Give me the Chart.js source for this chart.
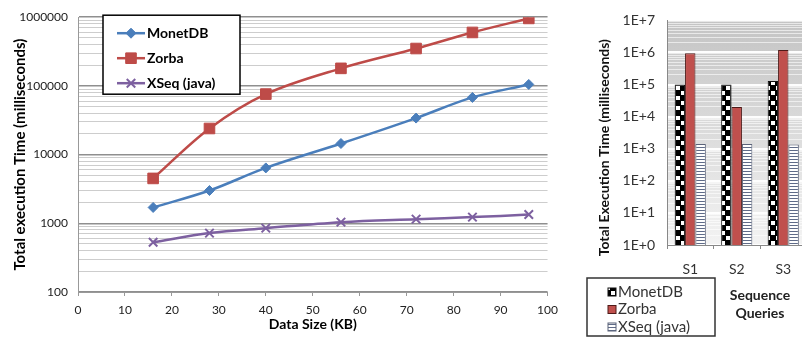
<!DOCTYPE html>
<html>
<head>
<meta charset="utf-8">
<script src="https://cdn.jsdelivr.net/npm/chart.js@4.4.1/dist/chart.umd.min.js"></script>
<style>
  html, body { margin:0; padding:0; background:#fff; overflow:hidden; width:802px; height:338px; }
  canvas { position:absolute; top:0; }
</style>
</head>
<body>
<canvas id="lineChart" width="565" height="338" style="left:0"></canvas>
<canvas id="barChart" width="240" height="338" style="left:570px"></canvas>
<script>
// ---------- Data: scaling experiment (left) ----------
const sizesKB    = [16, 28, 40, 56, 72, 84, 96];
const monetTimes = [1700, 3000, 6400, 14500, 34000, 68000, 105000];
const zorbaTimes = [4500, 24000, 76000, 180000, 350000, 600000, 960000];
const xseqTimes  = [530, 720, 850, 1040, 1150, 1230, 1340];
const lineXTicks = [0, 10, 20, 30, 40, 50, 60, 70, 80, 90, 100];
const lineYTicks = [100, 1000, 10000, 100000, 1000000];

// ---------- Data: sequence queries (right) ----------
const queries    = ['S1', 'S2', 'S3'];
const monetQuery = [100000, 100000, 130000];
const zorbaQuery = [950000, 20000, 1200000];
const xseqQuery  = [1400, 1400, 1350];
const barYTicks  = [1, 10, 100, 1000, 10000, 100000, 1000000, 10000000];

const seriesNames = ['MonetDB', 'Zorba', 'XSeq (java)'];

Chart.defaults.font.family = 'Lato';
Chart.defaults.color = '#222';

// ---------- Helpers ----------
// decade ticks plus the 2..9 minor lines in between
function withMinor(majors) {
  const out = [];
  majors.forEach((m, i) => {
    if (i === majors.length - 1) { out.push(m); return; }
    for (let k = 1; k <= 9; k++) out.push(m * k);
  });
  return out;
}
function isDecade(v, list) { return list.some(t => Math.abs(t - v) < t * 1e-6); }

function makePattern(w, h, draw) {
  const c = document.createElement('canvas');
  c.width = w; c.height = h;
  draw(c.getContext('2d'));
  return document.getElementById('barChart').getContext('2d').createPattern(c, 'repeat');
}
const checker = makePattern(10, 10, g => {
  g.fillStyle = '#000'; g.fillRect(0, 0, 10, 10);
  g.fillStyle = '#fff'; g.fillRect(1, 1, 4, 4); g.fillRect(6, 6, 4, 4);
});
const stripes = makePattern(4, 3, g => {
  g.fillStyle = '#fff'; g.fillRect(0, 0, 4, 3);
  g.fillStyle = '#5f6b88'; g.fillRect(0, 0, 4, 1);
});

// ---------- Left chart plugins ----------
const lineLegend = {
  id: 'lineLegend',
  afterDraw(chart) {
    const { ctx, chartArea: a } = chart;
    const x = a.left + 25, y = a.top - 2, w = 137, h = 79;
    ctx.save();
    ctx.fillStyle = '#fff'; ctx.fillRect(x, y, w, h);
    ctx.strokeStyle = '#000'; ctx.lineWidth = 1.5; ctx.strokeRect(x, y, w, h);
    chart.data.datasets.forEach((ds, i) => {
      const cy = y + 18 + i * 25;
      ctx.strokeStyle = ds.borderColor; ctx.lineWidth = 2.5;
      ctx.beginPath(); ctx.moveTo(x + 14, cy); ctx.lineTo(x + 42, cy); ctx.stroke();
      ctx.fillStyle = ds.pointBackgroundColor; ctx.strokeStyle = ds.borderColor;
      ctx.lineWidth = ds.pointBorderWidth;
      Chart.helpers.drawPoint(ctx, { pointStyle: ds.pointStyle, radius: ds.pointRadius, borderWidth: ds.pointBorderWidth, rotation: 0 }, x + 28, cy);
      ctx.fillStyle = '#000'; ctx.font = 'bold 14px Lato'; ctx.textBaseline = 'middle';
      ctx.fillText(ds.label, x + 44, cy);
    });
    ctx.restore();
  }
};

function lineSet(label, values, color, style, radius, bw) {
  return {
    label,
    data: sizesKB.map((x, i) => ({ x, y: values[i] })),
    borderColor: color, backgroundColor: color,
    pointBackgroundColor: color, pointBorderColor: color,
    pointStyle: style, pointRadius: radius, pointBorderWidth: bw,
    borderWidth: 2.5, tension: 0.35, fill: false
  };
}

new Chart(document.getElementById('lineChart'), {
  type: 'line',
  data: {
    datasets: [
      lineSet(seriesNames[0], monetTimes, '#4A7EBB', 'rectRot', 5, 1),
      lineSet(seriesNames[1], zorbaTimes, '#BE4B48', 'rect', 7.5, 1),
      lineSet(seriesNames[2], xseqTimes, '#7D60A0', 'crossRot', 6, 2)
    ]
  },
  options: {
    responsive: false, animation: false,
    layout: { padding: { top: 17, right: 12, left: 0, bottom: 0 } },
    plugins: { legend: { display: false }, tooltip: { enabled: false } },
    scales: {
      x: {
        type: 'linear', min: 0, max: 100,
        afterBuildTicks: s => { s.ticks = lineXTicks.map(v => ({ value: v })); },
        afterFit: s => { s.height = 46; },
        grid: { drawOnChartArea: false, tickLength: 4, color: '#999' },
        border: { color: '#999' },
        ticks: { font: { size: 12 }, padding: 7, autoSkip: false, maxRotation: 0 },
        title: { display: true, text: 'Data Size (KB)', font: { size: 14, weight: 'bold' }, color: '#000', padding: { top: 0, bottom: 5 } }
      },
      y: {
        type: 'logarithmic', min: 100, max: 1000000,
        afterBuildTicks: s => { s.ticks = withMinor(lineYTicks).map(v => ({ value: v })); },
        afterFit: s => { s.width = 78; },
        grid: {
          drawTicks: false,
          color: c => (c.tick && isDecade(c.tick.value, lineYTicks)) ? '#8f8f8f' : '#cdcdcd',
          lineWidth: c => (c.tick && isDecade(c.tick.value, lineYTicks)) ? 1.5 : 1
        },
        border: { color: '#999' },
        ticks: {
          font: { size: 12 }, padding: 10, autoSkip: false,
          callback: v => isDecade(v, lineYTicks) ? String(v) : ''
        },
        title: { display: true, text: 'Total execution Time (milliseconds)', font: { size: 15, weight: 'bold' }, color: '#000', padding: { top: 11, bottom: 0 } }
      }
    }
  },
  plugins: [lineLegend]
});

// ---------- Right chart plugins ----------
const barDecor = {
  id: 'barDecor',
  beforeDraw(chart) {
    const { ctx, chartArea: a } = chart;
    const g = ctx.createLinearGradient(0, a.top, 0, a.bottom);
    g.addColorStop(0, '#c4c4c4');
    g.addColorStop(1, '#f3f3f3');
    ctx.save(); ctx.fillStyle = g; ctx.fillRect(a.left, a.top, a.right - a.left, a.bottom - a.top); ctx.restore();
  },
  afterDraw(chart) {
    const { ctx, chartArea: a } = chart;
    ctx.save();
    // y axis title
    ctx.translate(a.left - 63, (a.top + a.bottom) / 2 + 15);
    ctx.rotate(-Math.PI / 2);
    ctx.font = 'bold 14px Lato'; ctx.fillStyle = '#111';
    ctx.textAlign = 'center'; ctx.textBaseline = 'middle';
    ctx.fillText('Total Execution Time (milliseconds)', 0, 0);
    ctx.restore();

    // x axis title, two lines
    ctx.save();
    ctx.font = 'bold 14px Lato'; ctx.fillStyle = '#222';
    ctx.textAlign = 'center'; ctx.textBaseline = 'middle';
    ctx.fillText('Sequence', a.left + 93, a.bottom + 50);
    ctx.fillText('Queries', a.left + 93, a.bottom + 68);
    ctx.restore();

    // legend box
    const x = a.left - 80, y = a.bottom + 33, w = 128, h = 58;
    ctx.save();
    ctx.fillStyle = '#fff'; ctx.fillRect(x, y, w, h);
    ctx.strokeStyle = '#333'; ctx.lineWidth = 1.5; ctx.strokeRect(x, y, w, h);
    chart.data.datasets.forEach((ds, i) => {
      const cy = y + 14 + i * 17.5;
      ctx.fillStyle = ds.backgroundColor; ctx.fillRect(x + 21, cy - 4, 8, 8);
      ctx.strokeStyle = ds.borderColor; ctx.lineWidth = 1; ctx.strokeRect(x + 21, cy - 4, 8, 8);
      ctx.fillStyle = '#333'; ctx.font = '15px Lato'; ctx.textBaseline = 'middle';
      ctx.fillText(ds.label, x + 31, cy);
    });
    ctx.restore();
  }
};

new Chart(document.getElementById('barChart'), {
  type: 'bar',
  data: {
    labels: queries,
    datasets: [
      { label: seriesNames[0], data: monetQuery, backgroundColor: checker, borderColor: '#111', borderWidth: 1 },
      { label: seriesNames[1], data: zorbaQuery, backgroundColor: '#C0504D', borderColor: '#4e1a18', borderWidth: 1 },
      { label: seriesNames[2], data: xseqQuery, backgroundColor: stripes, borderColor: '#5a6278', borderWidth: 1 }
    ]
  },
  options: {
    responsive: false, animation: false,
    layout: { padding: { top: 13, right: 3.5, left: 0, bottom: 0 } },
    plugins: { legend: { display: false }, tooltip: { enabled: false } },
    datasets: { bar: { barPercentage: 1, categoryPercentage: 0.67 } },
    scales: {
      x: {
        afterFit: s => { s.height = 93; },
        grid: { offset: true, drawOnChartArea: false, tickLength: 4, color: '#888' },
        border: { color: '#888' },
        ticks: { font: { size: 14 }, padding: 12, color: '#333' }
      },
      y: {
        type: 'logarithmic', min: 1, max: 10000000,
        afterBuildTicks: s => { s.ticks = withMinor(barYTicks).map(v => ({ value: v })); },
        afterFit: s => { s.width = 97; },
        grid: {
          drawTicks: false,
          color: c => (c.tick && isDecade(c.tick.value, barYTicks)) ? 'rgba(255,255,255,0.95)' : 'rgba(255,255,255,0.6)',
          lineWidth: c => (c.tick && isDecade(c.tick.value, barYTicks)) ? 2 : 1
        },
        border: { color: '#888' },
        ticks: {
          font: { size: 14 }, padding: 12, autoSkip: false, color: '#333',
          callback: v => isDecade(v, barYTicks) ? '1E+' + Math.round(Math.log10(v)) : ''
        }
      }
    }
  },
  plugins: [barDecor]
});
</script>
</body>
</html>
